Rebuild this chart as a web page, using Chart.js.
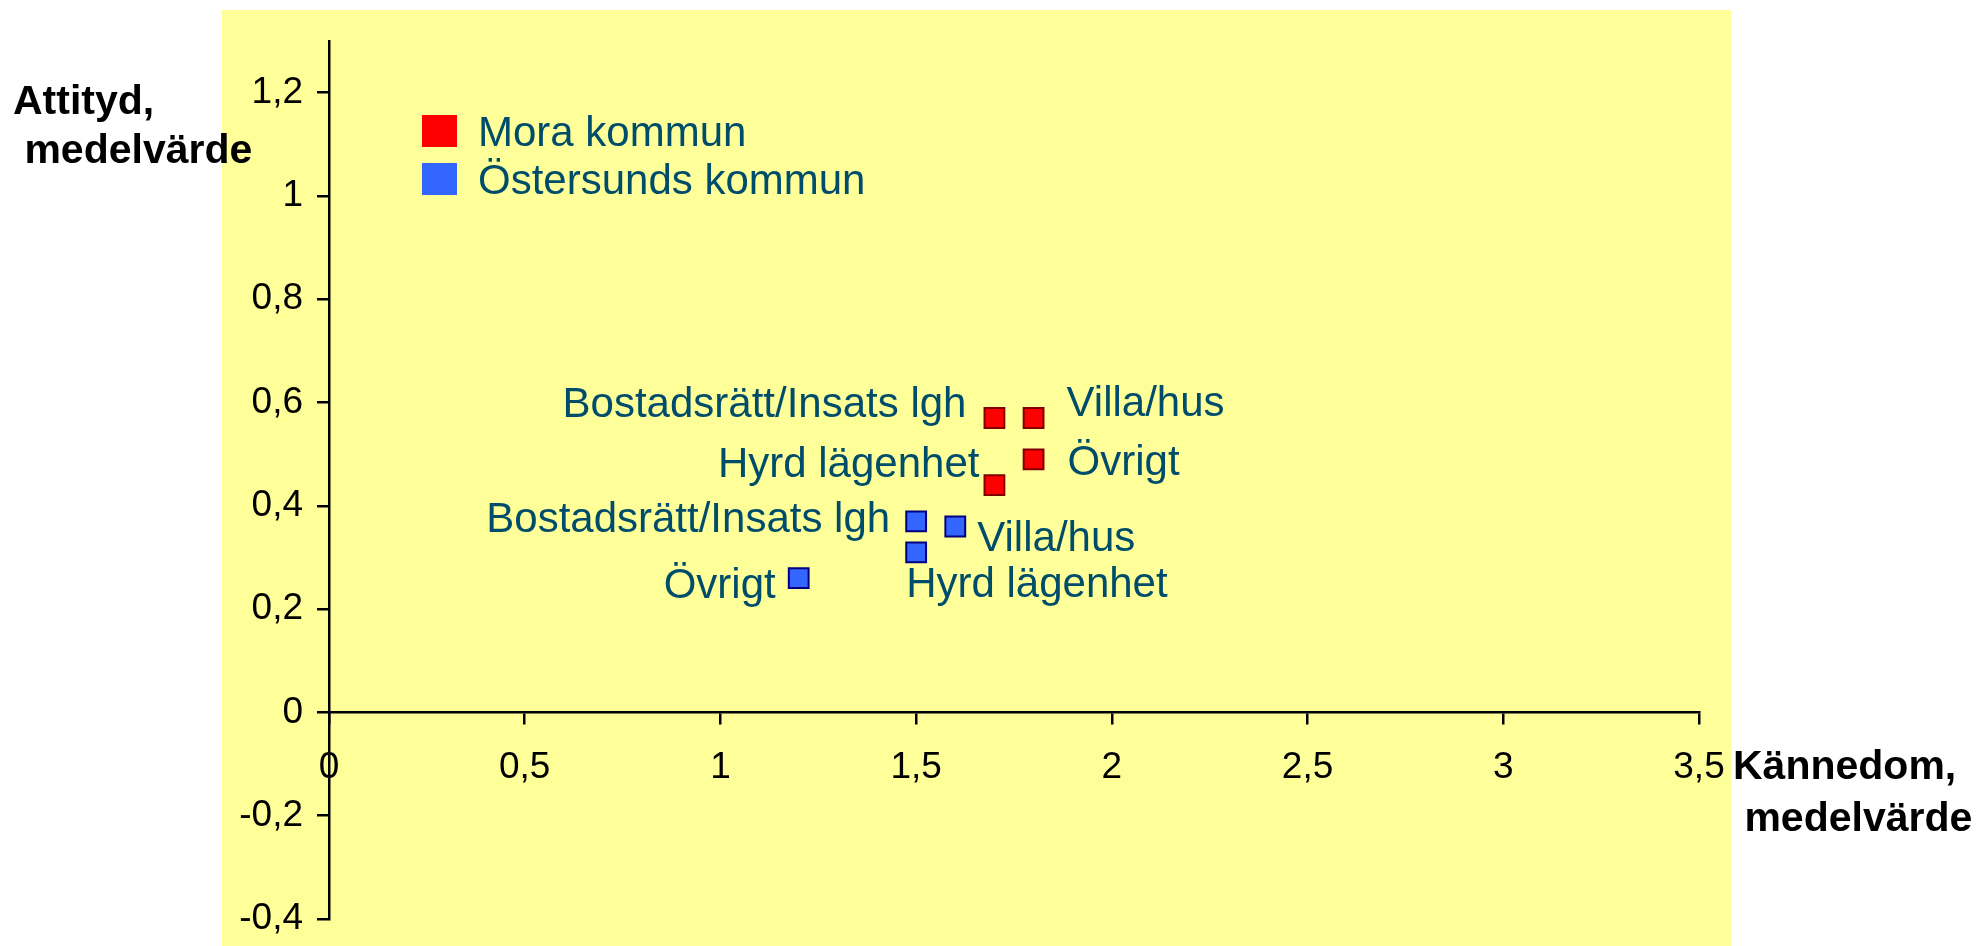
<!DOCTYPE html>
<html>
<head>
<meta charset="utf-8">
<script src="https://cdn.jsdelivr.net/npm/chart.js@4.4.1/dist/chart.umd.min.js"></script>
<style>
  html, body { margin: 0; padding: 0; background: #fff; }
  canvas { display: block; }
</style>
</head>
<body>
<canvas id="myChart" width="1984" height="946"></canvas>
<script>
const seriesNames = ['Mora kommun', 'Östersunds kommun']

const moraX = [1.7, 1.8, 1.8, 1.7]
const moraY = [0.57, 0.57, 0.49, 0.44]
const moraLabels = ['Bostadsrätt/Insats lgh', 'Villa/hus', 'Övrigt', 'Hyrd lägenhet']

const ostX = [1.5, 1.6, 1.5, 1.2]
const ostY = [0.37, 0.36, 0.31, 0.26]
const ostLabels = ['Bostadsrätt/Insats lgh', 'Villa/hus', 'Hyrd lägenhet', 'Övrigt']

const xRange = [0, 3.5]
const yRange = [-0.4, 1.3]

const xTitle = ['Kännedom,', ' medelvärde']
const yTitle = ['Attityd,', ' medelvärde']

// where each point label sits next to its marker: [align, dx, dy]
const moraPlace = [['right', -28, -1], ['left', 33, -2], ['left', 34, 16], ['right', -15, -8]]
const ostPlace = [['right', -26, 11], ['left', 22, 25], ['left', -10, 45], ['right', -23, 20]]

const textColor = '#004d6b'
const font = 'Liberation Sans, Arial, sans-serif'
Chart.defaults.font.family = font

function toPoints(xs, ys) {
  return xs.map((x, i) => ({ x: x, y: ys[i] }))
}

function fmt(v) {
  return String(Math.round(v * 10) / 10).replace('.', ',')
}

const background = {
  id: 'background',
  beforeDraw(chart) {
    const a = chart.chartArea
    const ctx = chart.ctx
    ctx.save()
    ctx.fillStyle = '#ffff99'
    ctx.fillRect(a.left - 107, a.top - 31, a.right - a.left + 139, chart.height - a.top + 31)
    ctx.restore()
  }
}

const extras = {
  id: 'extras',
  afterDraw(chart) {
    const ctx = chart.ctx
    const a = chart.chartArea
    const ys = chart.scales.y
    ctx.save()

    // point labels
    ctx.font = '42px ' + font
    ctx.fillStyle = textColor
    ctx.textBaseline = 'alphabetic'
    const labels = [moraLabels, ostLabels]
    const places = [moraPlace, ostPlace]
    chart.data.datasets.forEach((ds, d) => {
      chart.getDatasetMeta(d).data.forEach((pt, i) => {
        const p = places[d][i]
        ctx.textAlign = p[0]
        ctx.fillText(labels[d][i], pt.x + p[1], pt.y + p[2])
      })
    })

    // legend
    chart.data.datasets.forEach((ds, d) => {
      const top = a.top + 74 + d * 48
      ctx.fillStyle = ds.backgroundColor
      ctx.fillRect(a.left + 93, top, 35, 32)
      ctx.fillStyle = textColor
      ctx.textAlign = 'left'
      ctx.fillText(ds.label, a.left + 149, top + 31)
    })

    // axis titles
    ctx.font = 'bold 41px ' + font
    ctx.fillStyle = '#000'
    ctx.textAlign = 'left'
    const y12 = ys.getPixelForValue(1.2)
    ctx.fillText(yTitle[0], 13, y12 + 21)
    ctx.fillText(yTitle[1], 13, y12 + 70)
    const y0 = ys.getPixelForValue(0)
    ctx.fillText(xTitle[0], a.right + 34, y0 + 67)
    ctx.fillText(xTitle[1], a.right + 34, y0 + 119)
    ctx.restore()
  }
}

const ctx = document.getElementById('myChart')
new Chart(ctx, {
  type: 'scatter',
  data: {
    datasets: [{
      label: seriesNames[0],
      data: toPoints(moraX, moraY),
      backgroundColor: '#ff0000',
      borderColor: '#800000',
      borderWidth: 2,
      pointStyle: 'rect',
      pointRadius: 14,
      pointHoverRadius: 14
    }, {
      label: seriesNames[1],
      data: toPoints(ostX, ostY),
      backgroundColor: '#3366ff',
      borderColor: '#000080',
      borderWidth: 2,
      pointStyle: 'rect',
      pointRadius: 14,
      pointHoverRadius: 14
    }]
  },
  options: {
    responsive: false,
    animation: false,
    layout: { padding: { left: 0, top: 41, right: 285, bottom: 27 } },
    plugins: {
      legend: { display: false },
      tooltip: { enabled: false }
    },
    scales: {
      x: {
        type: 'linear',
        position: { y: 0 },
        min: xRange[0],
        max: xRange[1],
        ticks: { stepSize: 0.5, callback: fmt, color: '#000', font: { size: 37 }, padding: 22, maxRotation: 0, autoSkip: false },
        grid: { drawOnChartArea: false, color: '#000', lineWidth: 2.5, tickLength: 11 },
        border: { color: '#000', width: 2.5 }
      },
      y: {
        min: yRange[0],
        max: yRange[1],
        ticks: { stepSize: 0.2, includeBounds: false, callback: fmt, color: '#000', font: { size: 37 }, padding: 14 },
        grid: { drawOnChartArea: false, color: '#000', lineWidth: 2.5, tickLength: 12 },
        border: { color: '#000', width: 2.5 },
        afterFit(scale) {
          scale.width = 329
          scale.paddingTop = 0
          scale.paddingBottom = 0
        }
      }
    }
  },
  plugins: [background, extras]
})
</script>
</body>
</html>
